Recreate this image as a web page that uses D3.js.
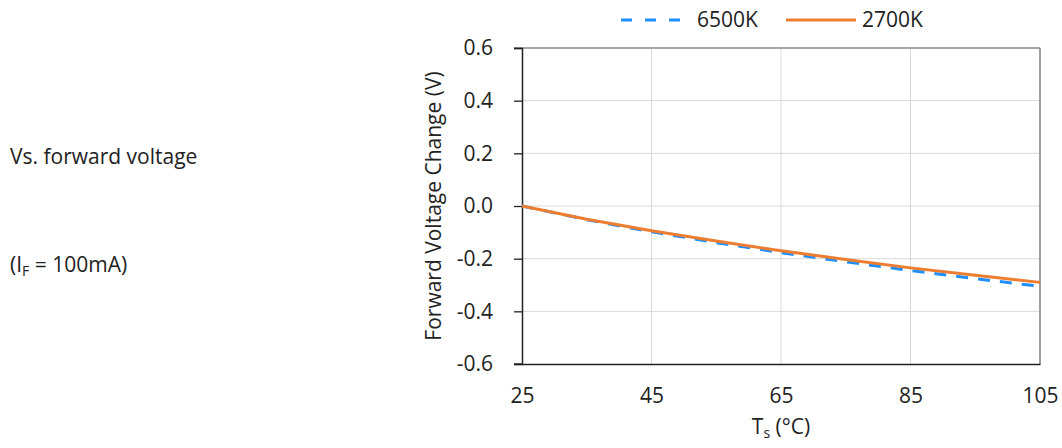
<!DOCTYPE html>
<html>
<head>
<meta charset="utf-8">
<script src="https://cdn.jsdelivr.net/npm/d3@7"></script>
<style>
  body { margin: 0; background: #fff; }
  svg text { font-family: "Open Sans", "Noto Sans", sans-serif; fill: #222; }
</style>
</head>
<body>
<div id="chart"></div>
<script>
// temperatures (°C) and forward voltage change (V)
const temps = [25, 35, 45, 55, 65, 75, 85, 95, 105];
const cool6500 = [0, -0.052, -0.098, -0.139, -0.177, -0.212, -0.245, -0.276, -0.305];
const warm2700 = [0, -0.050, -0.094, -0.133, -0.170, -0.203, -0.235, -0.263, -0.290];
const xTicks = [25, 45, 65, 85, 105];
const yTicks = [-0.6, -0.4, -0.2, 0, 0.2, 0.4, 0.6];

const width = 1062, height = 448;
const plot = { left: 522, right: 1040, top: 48, bottom: 364 };
const fs = 21;

const svg = d3.select("#chart").append("svg")
  .attr("width", width)
  .attr("height", height);

const x = d3.scaleLinear().domain([25, 105]).range([plot.left, plot.right]);
const y = d3.scaleLinear().domain([-0.6, 0.6]).range([plot.bottom, plot.top]);

// side notes
svg.append("text").attr("x", 10).attr("y", 164)
  .attr("font-size", fs).text("Vs. forward voltage");
const note = svg.append("text").attr("x", 10).attr("y", 272).attr("font-size", fs);
note.append("tspan").text("(I");
note.append("tspan").attr("font-size", 14).attr("dy", 4).text("F");
note.append("tspan").attr("dy", -4).text(" = 100mA)");

// grid
svg.append("g").selectAll("line").data(xTicks.slice(1))
  .join("line")
  .attr("x1", d => x(d)).attr("x2", d => x(d))
  .attr("y1", plot.top).attr("y2", plot.bottom)
  .attr("stroke", "#d9d9d9").attr("stroke-width", 1);
svg.append("g").selectAll("line").data(yTicks.slice(1, -1))
  .join("line")
  .attr("x1", plot.left).attr("x2", plot.right)
  .attr("y1", d => y(d)).attr("y2", d => y(d))
  .attr("stroke", "#d9d9d9").attr("stroke-width", 1);

// frame: top and right in grey
svg.append("line").attr("x1", plot.left - 8).attr("x2", plot.right)
  .attr("y1", plot.top).attr("y2", plot.top)
  .attr("stroke", "#888").attr("stroke-width", 1.3);
svg.append("line").attr("x1", plot.right).attr("x2", plot.right)
  .attr("y1", plot.top).attr("y2", plot.bottom)
  .attr("stroke", "#777").attr("stroke-width", 1.3);

// y axis
const yAxis = svg.append("g")
  .attr("transform", `translate(${plot.left},0)`)
  .call(d3.axisLeft(y).tickValues(yTicks).tickSize(8).tickPadding(21)
    .tickFormat(d => d3.format(".1f")(d).replace("−", "-")));
yAxis.select(".domain").attr("stroke", "#222").attr("stroke-width", 1.5);
yAxis.selectAll(".tick line").attr("stroke", "#222").attr("stroke-width", 1.3);
yAxis.selectAll(".tick text").attr("font-size", fs).attr("fill", "#222");

// x axis
const xAxis = svg.append("g")
  .attr("transform", `translate(0,${plot.bottom})`)
  .call(d3.axisBottom(x).tickValues(xTicks).tickSize(0).tickPadding(24));
xAxis.select(".domain").attr("stroke", "#222").attr("stroke-width", 1.5);
xAxis.selectAll(".tick text").attr("font-size", fs).attr("fill", "#222");
svg.append("line").attr("x1", plot.left - 8).attr("x2", plot.left)
  .attr("y1", plot.bottom).attr("y2", plot.bottom)
  .attr("stroke", "#222").attr("stroke-width", 1.3);

// axis titles
svg.append("text")
  .attr("transform", `translate(441,${(plot.top + plot.bottom) / 2}) rotate(-90)`)
  .attr("text-anchor", "middle").attr("font-size", fs)
  .text("Forward Voltage Change (V)");
const xt = svg.append("text").attr("x", 781).attr("y", 434)
  .attr("text-anchor", "middle").attr("font-size", fs);
xt.append("tspan").text("T");
xt.append("tspan").attr("font-size", 14).attr("dy", 4).text("s");
xt.append("tspan").attr("dy", -4).text(" (°C)");

// series
const line = d3.line().x((d, i) => x(temps[i])).y(d => y(d));
svg.append("path").datum(cool6500)
  .attr("d", line).attr("fill", "none")
  .attr("stroke", "#1f8fff").attr("stroke-width", 3)
  .attr("stroke-dasharray", "12,10");
svg.append("path").datum(warm2700)
  .attr("d", line).attr("fill", "none")
  .attr("stroke", "#ed7d31").attr("stroke-width", 3);

// legend
const legend = svg.append("g");
legend.append("line").attr("x1", 621).attr("x2", 681).attr("y1", 20).attr("y2", 20)
  .attr("stroke", "#1f8fff").attr("stroke-width", 3).attr("stroke-dasharray", "11,13");
legend.append("text").attr("x", 697).attr("y", 27).attr("font-size", fs).text("6500K");
legend.append("line").attr("x1", 786).attr("x2", 856).attr("y1", 20).attr("y2", 20)
  .attr("stroke", "#ed7d31").attr("stroke-width", 3);
legend.append("text").attr("x", 862).attr("y", 27).attr("font-size", fs).text("2700K");
</script>
</body>
</html>
